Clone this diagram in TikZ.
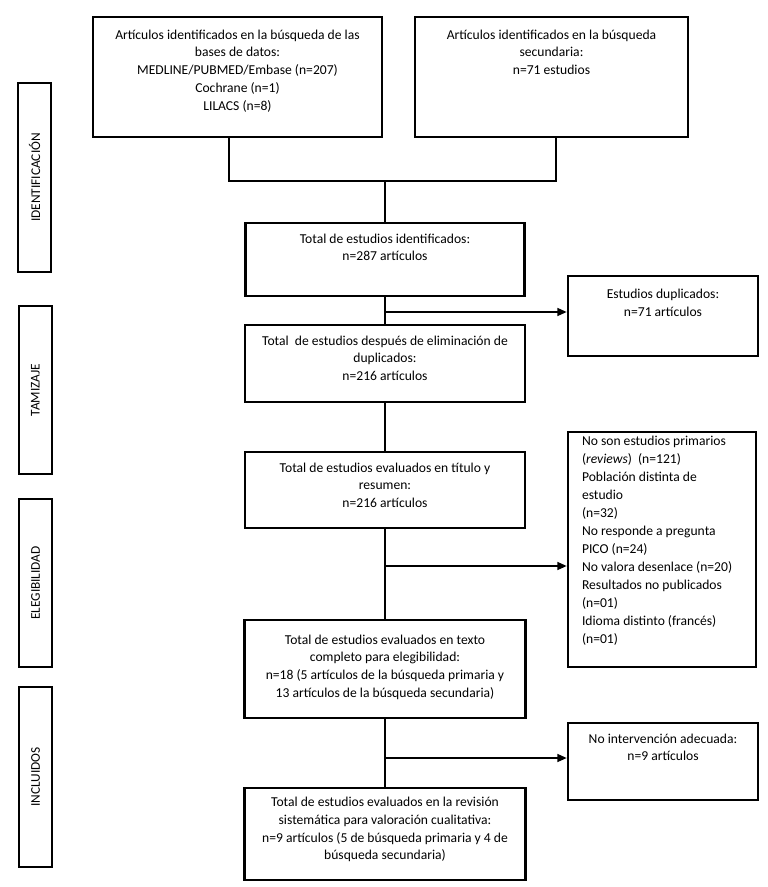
\documentclass[tikz,border=0pt]{standalone}
\usepackage{fontspec}
\setmainfont{Carlito}
\usetikzlibrary{arrows.meta}
\newcommand{\fbt}[4]{\parbox[c][#2][t]{#1}{\fontsize{10.2}{13.3}\selectfont\centering\vspace*{#3}#4\par}}
\newcommand{\fbl}[4]{\parbox[c][#2][t]{#1}{\fontsize{10.2}{13.5}\selectfont\raggedright\leftskip=10.5pt\vspace*{#3}#4\par}}
\begin{document}
\begin{tikzpicture}[x=0.75pt,y=-0.75pt,
  fb/.style={draw,line width=2pt,inner sep=0pt},
  side/.style={draw,line width=1.5pt,inner sep=0pt,rotate=90,minimum height=24.75pt,font=\fontsize{10}{12}\selectfont},
  conn/.style={line width=1.1pt},
  arr/.style={conn,-{Triangle[length=7pt,width=6pt]}}]
\useasboundingbox[fill=white] (0,0) rectangle (767,887);

% side labels
\node[side,minimum width=141.75pt] (s1) at (34.5,177.5) {IDENTIFICACIÓN};
\node[side,minimum width=126pt] (s2) at (35.5,390) {TAMIZAJE};
\node[side,minimum width=126pt] (s3) at (35.5,583) {ELEGIBILIDAD};
\node[side,minimum width=135pt] (s4) at (35.5,777) {INCLUIDOS};

% main boxes
\node[fb] (b1) at (237.5,77) {\fbt{216.75pt}{90pt}{9.5pt}{Artículos identificados en la búsqueda de las\\ bases de datos:\\ MEDLINE/PUBMED/Embase (n=207)\\ Cochrane (n=1)\\ LILACS (n=8)}};
\node[fb] (b2) at (551.5,77) {\fbt{204.75pt}{90pt}{9.5pt}{Artículos identificados en la búsqueda\\ secundaria:\\ n=71 estudios}};
\node[fb] (b3) at (385,259.5) {\fbt{209.25pt}{54.75pt}{8pt}{Total de estudios identificados:\\ n=287 artículos}};
\node[fb] (dup) at (663,316) {\fbt{142.5pt}{60pt}{10pt}{Estudios duplicados:\\ n=71 artículos}};
\node[fb] (b4) at (385,363.5) {\fbt{210pt}{57.75pt}{8pt}{Total\ \ de estudios después de eliminación de\\ duplicados:\\ n=216 artículos}};
\node[fb] (b5) at (385,490) {\fbt{210pt}{57pt}{8pt}{Total de estudios evaluados en título y\\ resumen:\\ n=216 artículos}};
\node[fb] (excl) at (662,549.5) {\fbl{141pt}{176.25pt}{3pt}{No son estudios primarios\\ (\textit{reviews})\ \ (n=121)\\ Población distinta de\\ estudio\\ (n=32)\\ No responde a pregunta\\ PICO (n=24)\\ No valora desenlace (n=20)\\ Resultados no publicados\\ (n=01)\\ Idioma distinto (francés)\\ (n=01)}};
\node[fb] (b6) at (385,669) {\fbt{210.75pt}{73.5pt}{11pt}{Total de estudios evaluados en texto\\ completo para elegibilidad:\\ n=18 (5 artículos de la búsqueda primaria y\\ 13 artículos de la búsqueda secundaria)}};
\node[fb] (noint) at (663,761.5) {\fbt{142.5pt}{57.75pt}{8pt}{No intervención adecuada:\\ n=9 artículos}};
\node[fb] (b7) at (385,834) {\fbt{210.75pt}{69pt}{7pt}{Total de estudios evaluados en la revisión\\ sistemática para valoración cualitativa:\\ n=9 artículos (5 de búsqueda primaria y 4 de\\ búsqueda secundaria)}};

% junction coordinates
\coordinate (j1) at (229,181);
\coordinate (j2) at (556,181);
\coordinate (j3) at (385,181);
\coordinate (a1) at (385,312);
\coordinate (a2) at (385,566);
\coordinate (a3) at (385,758);

% connectors
\draw[conn] (b1.south -| j1) -- (j1) -- (j2) -- (b2.south -| j2);
\draw[conn] (j3) -- (b3.north);
\draw[conn] (b3.south) -- (b4.north);
\draw[arr] (a1) -- (a1 -| dup.west);
\draw[conn] (b4.south) -- (b5.north);
\draw[conn] (b5.south) -- (b6.north);
\draw[arr] (a2) -- (a2 -| excl.west);
\draw[conn] (b6.south) -- (b7.north);
\draw[arr] (a3) -- (a3 -| noint.west);
\end{tikzpicture}
\end{document}
